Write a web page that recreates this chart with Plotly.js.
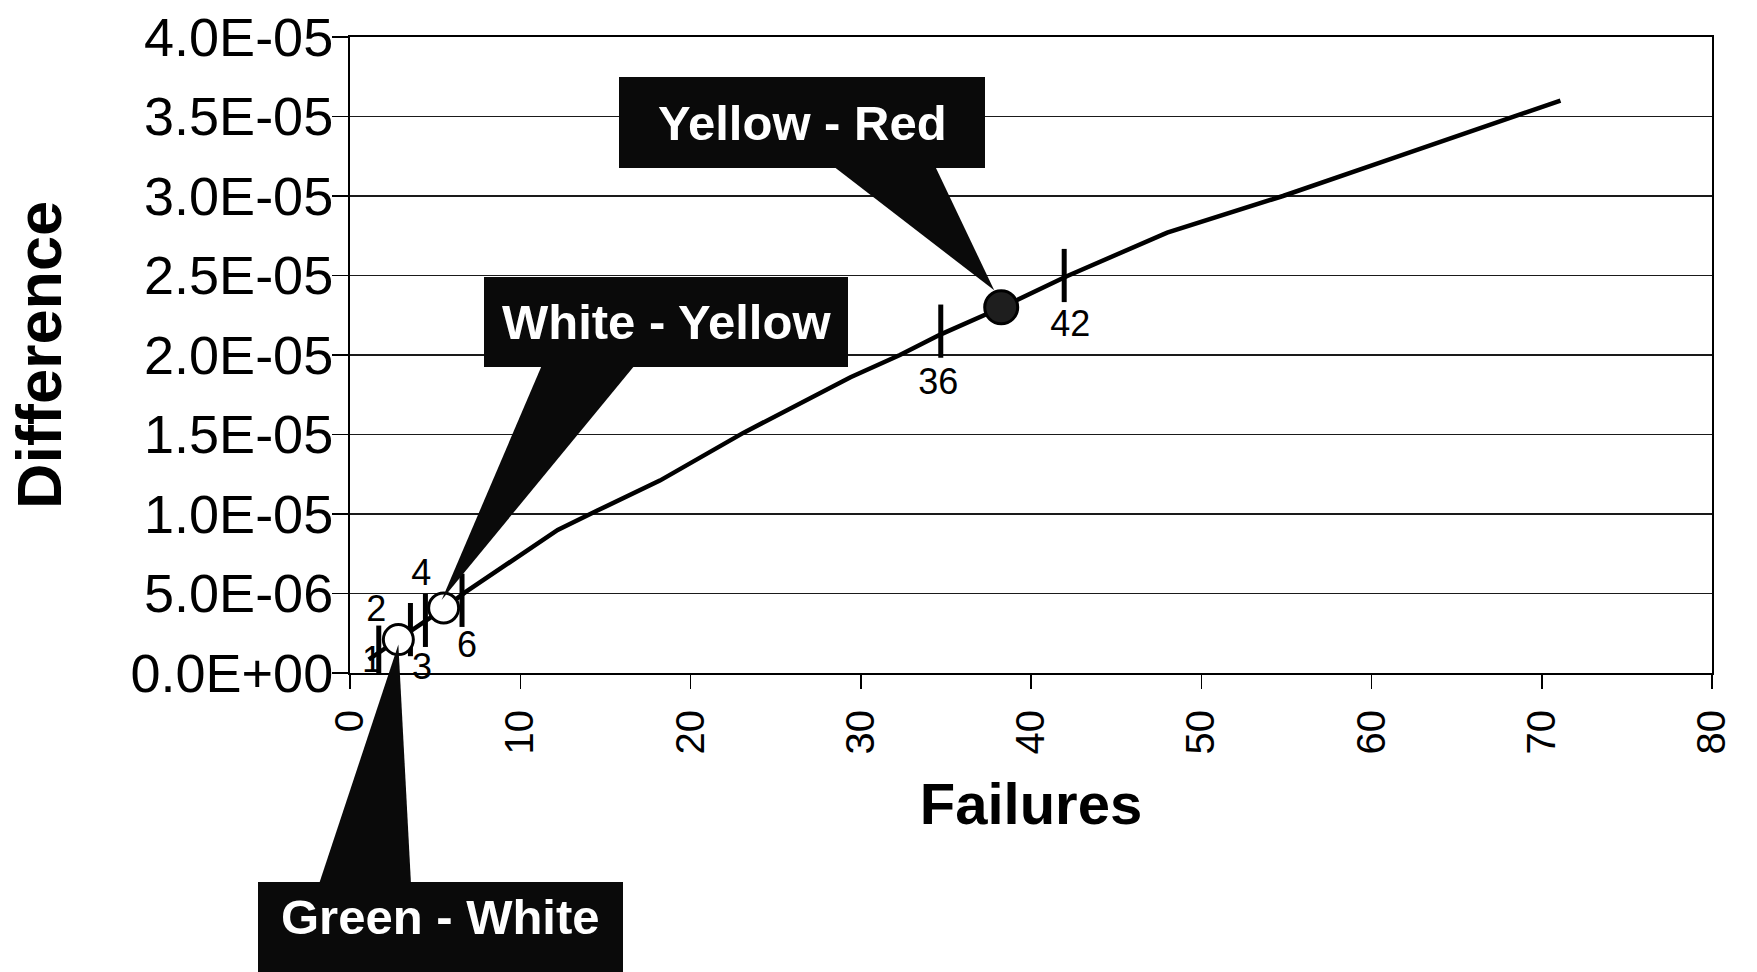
<!DOCTYPE html>
<html><head><meta charset="utf-8">
<script src="https://cdn.plot.ly/plotly-3.0.1.min.js"></script>
<style>html,body{margin:0;padding:0;background:#fff}#chart{width:1757px;height:972px}</style>
</head><body><div id="chart"></div>
<script>
// ---- data ----
const failures   = [1.1, 2.8, 5.5, 6.8, 12.2, 14.5, 18.2, 23.1, 26.5, 29.4, 32.3, 34.7, 38.3, 42.1, 48.0, 54.8, 60.5, 68.3, 71.1];
const difference = [0.85e-6, 2.1e-6, 4.05e-6, 5.1e-6, 9.0e-6, 10.2e-6, 12.1e-6, 15.1e-6, 17.0e-6, 18.6e-6, 20.0e-6, 21.3e-6, 23.0e-6, 24.95e-6, 27.7e-6, 30.0e-6, 32.1e-6, 35.0e-6, 36.0e-6];

const thresholdNames = ["Green - White", "White - Yellow", "Yellow - Red"];
const thresholdX = [2.84, 5.5, 38.25];
const thresholdY = [2.1e-6, 4.09e-6, 2.30e-5];
const thresholdFill = ["#ffffff", "#ffffff", "#1e1e1e"];

const boundX = [1.69, 3.55, 4.43, 6.58, 34.7, 41.95];
const boundY = [1.31e-6, 2.73e-6, 3.31e-6, 4.57e-6, 21.5e-6, 25.0e-6];

const labelText = ["1", "2", "3", "4", "6", "36", "42"];
const labelX = [1.30, 1.55, 4.23, 4.18, 6.88, 34.55, 42.3];
const labelY = [0.63e-6, 3.86e-6, 0.16e-6, 6.08e-6, 1.58e-6, 18.14e-6, 21.79e-6];

const xTickVals = [0, 10, 20, 30, 40, 50, 60, 70, 80];
const xTickText = ["0", "10", "20", "30", "40", "50", "60", "70", "80"];
const yTickVals = [0, 5e-6, 1e-5, 1.5e-5, 2e-5, 2.5e-5, 3e-5, 3.5e-5, 4e-5];
const yTickText = ["0.0E+00", "5.0E-06", "1.0E-05", "1.5E-05", "2.0E-05", "2.5E-05", "3.0E-05", "3.5E-05", "4.0E-05"];

// ---- geometry (styles) ----
const W = 1757, H = 972;
const M = {l: 350, r: 45, t: 37, b: 299};
const PW = W - M.l - M.r, PH = H - M.t - M.b;
const XR = [0, 80], YR = [0, 4e-5];
const FONT = '"Liberation Sans", Arial, Helvetica, sans-serif';

const px = v => (v - M.l) / PW;            // pixel -> paper x
const py = v => 1 - (v - M.t) / PH;        // pixel -> paper y
const dx2px = x => M.l + (x - XR[0]) / (XR[1] - XR[0]) * PW;
const dy2px = y => M.t + (1 - (y - YR[0]) / (YR[1] - YR[0])) * PH;

// callout boxes [x0,y0,x1,y1] in pixels, text centre, wedge base, tip offset from the marker
const boxes = [[258, 882, 623, 972], [484, 277, 848, 367], [619, 77, 985, 168]];
const textCentre = [[440, 917], [666, 322], [802, 123]];
const wedgeBase = [[319, 411, 884], [542, 635, 365], [833, 935, 166]];
const tipOffset = [[0, 5], [-2, -8], [-7, -17]];

const shapes = [];
const annotations = [];
for (let i = 0; i < thresholdNames.length; i++) {
  const b = boxes[i];
  shapes.push({type: 'rect', xref: 'paper', yref: 'paper', layer: 'above',
    x0: px(b[0]), x1: px(b[2]), y0: py(b[3]), y1: py(b[1]),
    fillcolor: '#0a0a0a', line: {width: 0}});
  const tx = dx2px(thresholdX[i]) + tipOffset[i][0];
  const ty = dy2px(thresholdY[i]) + tipOffset[i][1];
  const wb = wedgeBase[i];
  shapes.push({type: 'path', xref: 'paper', yref: 'paper', layer: 'above',
    path: `M ${px(wb[0])} ${py(wb[2])} L ${px(wb[1])} ${py(wb[2])} L ${px(tx)} ${py(ty)} Z`,
    fillcolor: '#0a0a0a', line: {width: 0}});
  annotations.push({xref: 'paper', yref: 'paper', x: px(textCentre[i][0]), y: py(textCentre[i][1]),
    xanchor: 'center', yanchor: 'middle', showarrow: false, text: thresholdNames[i],
    font: {family: FONT, size: 49, color: '#ffffff', weight: 'bold'}});
}

const traces = [
  {x: failures, y: difference, type: 'scatter', mode: 'lines',
   line: {color: '#000', width: 4.5}, hoverinfo: 'skip'},
  {x: boundX, y: boundY, type: 'scatter', mode: 'markers',
   marker: {symbol: 'line-ns', size: 38, line: {color: '#000', width: 5}}, hoverinfo: 'skip'},
  {x: thresholdX, y: thresholdY, type: 'scatter', mode: 'markers',
   marker: {symbol: 'circle', size: [30, 30, 33], color: thresholdFill, opacity: 1, line: {color: '#000', width: 3}},
   text: thresholdNames, hoverinfo: 'text'},
  {x: labelX, y: labelY, type: 'scatter', mode: 'text', text: labelText,
   textposition: 'middle center', textfont: {family: FONT, size: 36, color: '#000'}, hoverinfo: 'skip', cliponaxis: false}
];

const layout = {
  width: W, height: H, margin: M,
  paper_bgcolor: '#fff', plot_bgcolor: '#fff', showlegend: false,
  font: {family: FONT, color: '#000'},
  xaxis: {range: XR, tickmode: 'array', tickvals: xTickVals, ticktext: xTickText, tickangle: -90,
    ticks: 'outside', ticklen: 14, tickwidth: 1.5, tickcolor: '#000', ticklabelstandoff: 5,
    showline: true, linecolor: '#000', linewidth: 2, mirror: true, showgrid: false, zeroline: false,
    tickfont: {family: FONT, size: 40, color: '#000'},
    title: {text: 'Failures', standoff: 30, font: {family: FONT, size: 58, weight: 'bold', color: '#000'}}},
  yaxis: {range: YR, tickmode: 'array', tickvals: yTickVals, ticktext: yTickText,
    ticks: 'outside', ticklen: 16, tickwidth: 1.5, tickcolor: '#000', ticklabelstandoff: -12,
    showline: true, linecolor: '#000', linewidth: 2, mirror: true,
    showgrid: true, gridcolor: '#1a1a1a', gridwidth: 1.5, zeroline: false,
    tickfont: {family: FONT, size: 54, color: '#000'},
    title: {text: 'Difference\u00a0', standoff: 48, font: {family: FONT, size: 63, weight: 'bold', color: '#000'}}},
  shapes: shapes,
  annotations: annotations
};

Plotly.newPlot('chart', traces, layout, {staticPlot: true, displayModeBar: false});
</script></body></html>
